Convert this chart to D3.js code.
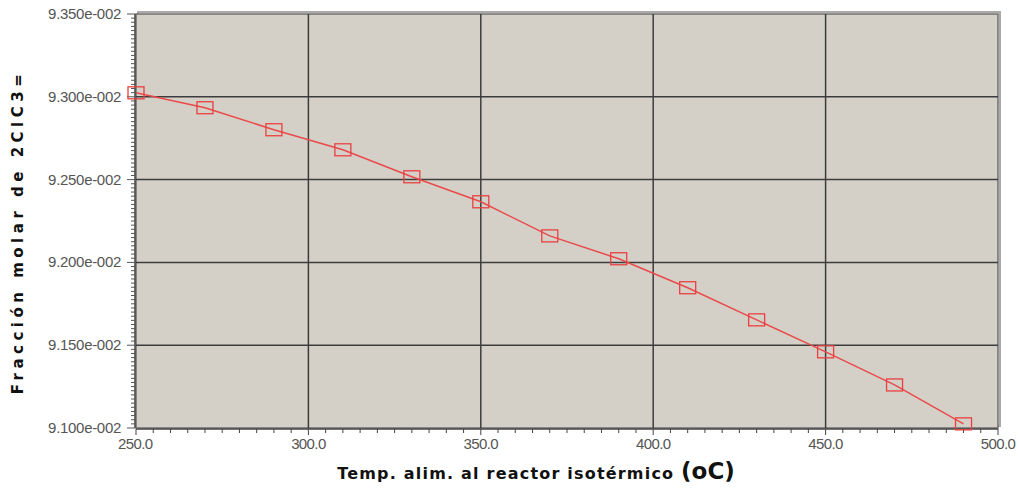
<!DOCTYPE html>
<html>
<head>
<meta charset="utf-8">
<script src="https://cdn.jsdelivr.net/npm/d3@7"></script>
<style>
  body { margin: 0; background: #fff; }
  svg { display: block; }
</style>
</head>
<body>
<script>
// data (y values in units of 1e-2)
var temps = [250, 270, 290, 310, 330, 350, 370, 390, 410, 430, 450, 470, 490];
var fracs = [9.3024, 9.2934, 9.2801, 9.2680, 9.2517, 9.2366, 9.2160, 9.2022, 9.1847, 9.1653, 9.1460, 9.1260, 9.1025];
var xTicks = [250, 300, 350, 400, 450, 500];
var yTicks = [9.10, 9.15, 9.20, 9.25, 9.30, 9.35];

var W = 1019, H = 488;
var plotL = 136, plotR = 998, plotT = 14, plotB = 428;

var svg = d3.select('body').append('svg')
  .attr('width', W)
  .attr('height', H);

var x = d3.scaleLinear().domain([250, 500]).range([plotL, plotR]);
var y = d3.scaleLinear().domain([9.10, 9.35]).range([plotB, plotT]);

// plot background + shadow border
svg.append('rect')
  .attr('x', plotL + 2).attr('y', plotT - 2)
  .attr('width', plotR - plotL).attr('height', plotB - plotT)
  .attr('fill', 'none')
  .attr('stroke', '#aaa')
  .attr('stroke-width', 2);
svg.append('rect')
  .attr('x', plotL).attr('y', plotT)
  .attr('width', plotR - plotL).attr('height', plotB - plotT)
  .attr('fill', '#d4d0c8')
  .attr('stroke', '#6e6e6e')
  .attr('stroke-width', 1.5);

// grid
svg.append('g').selectAll('line')
  .data(xTicks.slice(1, -1))
  .enter().append('line')
  .attr('x1', function (d) { return x(d); })
  .attr('x2', function (d) { return x(d); })
  .attr('y1', plotT).attr('y2', plotB)
  .attr('stroke', '#3c3c3c')
  .attr('stroke-width', 1.5);
svg.append('g').selectAll('line')
  .data(yTicks.slice(1, -1))
  .enter().append('line')
  .attr('y1', function (d) { return y(d); })
  .attr('y2', function (d) { return y(d); })
  .attr('x1', plotL).attr('x2', plotR)
  .attr('stroke', '#3c3c3c')
  .attr('stroke-width', 1.5);

var tickFont = '"Liberation Sans", Arial, sans-serif';

// x axis
var xMinor = d3.range(250, 500.1, 5);
svg.append('line')
  .attr('x1', plotL).attr('x2', plotR)
  .attr('y1', plotB + 1).attr('y2', plotB + 1)
  .attr('stroke', '#444').attr('stroke-width', 1.5);
svg.append('g').selectAll('line')
  .data(xMinor)
  .enter().append('line')
  .attr('x1', function (d) { return x(d); })
  .attr('x2', function (d) { return x(d); })
  .attr('y1', plotB + 1)
  .attr('y2', function (d) { return d % 50 === 0 ? plotB + 7 : plotB + 5; })
  .attr('stroke', '#444').attr('stroke-width', 1);
svg.append('g').selectAll('text')
  .data(xTicks)
  .enter().append('text')
  .attr('x', function (d) { return x(d); })
  .attr('y', plotB + 21)
  .attr('text-anchor', function (d) { return d === 250 ? 'start' : 'middle'; })
  .attr('dx', function (d) { return d === 250 ? -18 : 0; })
  .style('font-family', tickFont)
  .style('font-size', '15px')
  .style('letter-spacing', '-0.6px')
  .style('fill', '#555')
  .text(function (d) { return d3.format('.1f')(d); });

// y axis
var yMinor = d3.range(0, 101).map(function (i) { return 9.10 + i * 0.0025; });
svg.append('line')
  .attr('x1', plotL - 1).attr('x2', plotL - 1)
  .attr('y1', plotT).attr('y2', plotB)
  .attr('stroke', '#444').attr('stroke-width', 1.5);
svg.append('g').selectAll('line')
  .data(yMinor)
  .enter().append('line')
  .attr('y1', function (d) { return y(d); })
  .attr('y2', function (d) { return y(d); })
  .attr('x1', plotL - 1)
  .attr('x2', function (d, i) { return i % 20 === 0 ? plotL - 9 : plotL - 5; })
  .attr('stroke', '#555').attr('stroke-width', 1);
svg.append('g').selectAll('text')
  .data(yTicks)
  .enter().append('text')
  .attr('x', plotL - 15)
  .attr('y', function (d) { return y(d) + 5; })
  .attr('text-anchor', 'end')
  .style('font-family', tickFont)
  .style('font-size', '15px')
  .style('letter-spacing', '-0.3px')
  .style('fill', '#555')
  .text(function (d) { return d3.format('.3f')(d) + 'e-002'; });

// series line
var line = d3.line()
  .x(function (d, i) { return x(temps[i]); })
  .y(function (d) { return y(d); });
svg.append('path')
  .datum(fracs)
  .attr('d', line)
  .attr('fill', 'none')
  .attr('stroke', '#ea4a4a')
  .attr('stroke-width', 1.5);

// markers
svg.append('g').selectAll('rect')
  .data(fracs)
  .enter().append('rect')
  .attr('x', function (d, i) { return x(temps[i]) - 8; })
  .attr('y', function (d) { return y(d) - 6; })
  .attr('width', 16).attr('height', 12)
  .attr('fill', 'none')
  .attr('stroke', '#ea4040')
  .attr('stroke-width', 1.3);

// axis titles
var titleFont = 'Verdana, "DejaVu Sans", sans-serif';
var xt = svg.append('text')
  .attr('x', 536)
  .attr('y', 479)
  .attr('text-anchor', 'middle')
  .style('font-family', titleFont)
  .style('font-weight', 'bold')
  .style('font-size', '16px')
  .style('letter-spacing', '1.2px')
  .style('fill', '#111');
xt.append('tspan').text('Temp. alim. al reactor isotérmico ');
xt.append('tspan').style('font-size', '23px').style('letter-spacing', '0px').text('(oC)');

svg.append('text')
  .attr('transform', 'translate(23,' + 232 + ') rotate(-90)')
  .attr('text-anchor', 'middle')
  .style('font-family', titleFont)
  .style('font-weight', 'bold')
  .style('font-size', '15px')
  .style('letter-spacing', '4.5px')
  .style('fill', '#111')
  .text('Fracción molar de 2ClC3=');
</script>
</body>
</html>
